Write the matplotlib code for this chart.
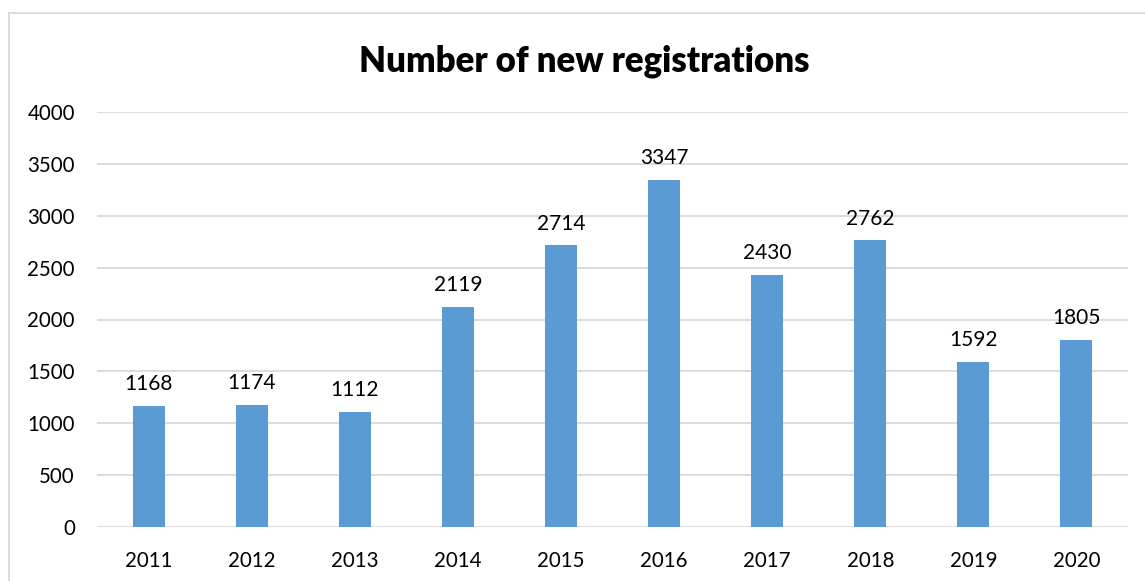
import matplotlib.pyplot as plt
from matplotlib.patches import Rectangle

years = ["2011", "2012", "2013", "2014", "2015", "2016", "2017", "2018", "2019", "2020"]
registrations = [1168, 1174, 1112, 2119, 2714, 3347, 2430, 2762, 1592, 1805]
yticks = [0, 500, 1000, 1500, 2000, 2500, 3000, 3500, 4000]

plt.rcParams["font.family"] = ["Lato", "DejaVu Sans"]

fig = plt.figure(figsize=(11.45, 5.81), dpi=100)
ax = fig.add_axes([97 / 1145, 1 - 527 / 581, 1031 / 1145, 415 / 581])

xs = range(len(years))
ax.bar(xs, registrations, width=0.31, color="#5B9BD5", zorder=3)
for x, v in zip(xs, registrations):
    ax.annotate(str(v), (x, v), xytext=(0, 8.5), textcoords="offset points",
                ha="center", va="bottom", fontsize=15, color="#000000")

ax.set_xlim(-0.5, len(years) - 0.5)
ax.set_ylim(0, 4000)
ax.set_yticks(yticks)
ax.set_xticks(list(xs))
ax.set_xticklabels(years)
ax.tick_params(axis="both", length=0, labelsize=14.8, colors="#000000")
ax.tick_params(axis="y", pad=16)
ax.tick_params(axis="x", pad=17)
ax.grid(axis="y", color="#D9D9D9", linewidth=1.3, zorder=0)
for side in ax.spines.values():
    side.set_visible(False)

fig.text(584 / 1145, 1 - 71 / 581, "Number of new registrations",
         ha="center", va="baseline", fontsize=25, fontweight="heavy")

# chart frame, cut off at the right and bottom like the source
fig.patches.append(Rectangle((9 / 1145, -0.1), 1.2, 1.1 - 13 / 581,
                             transform=fig.transFigure, fill=False,
                             edgecolor="#D9D9D9", linewidth=1.3))

fig.savefig("out.png", dpi=100)
